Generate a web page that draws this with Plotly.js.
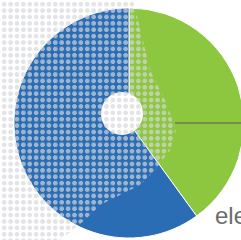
<!DOCTYPE html>
<html><head><meta charset="utf-8">
<script src="https://cdn.plot.ly/plotly-3.0.1.min.js"></script>
<style>
html,body{margin:0;padding:0;overflow:hidden;background:#fff;width:241px;height:240px}
#wrap{position:relative;width:241px;height:240px;overflow:hidden}
#chart{position:absolute;left:0;top:0;width:258px;height:240px}
#dots{position:absolute;left:0;top:0;width:241px;height:240px;pointer-events:none;
background-image:radial-gradient(circle, rgba(214,215,220,0.68) 2.1px, rgba(214,215,220,0) 2.6px);
background-size:6.4px 6.4px;background-position:1px 1px;
clip-path:polygon(0px 0px,133px 0px,138px 20px,144px 45px,150px 70px,165px 100px,176px 130px,170px 150px,155px 170px,140px 185px,120px 195px,100px 205px,85px 220px,70px 232px,60px 240px,0px 240px)}
</style></head>
<body>
<div id="wrap"><div id="chart"></div><div id="dots"></div></div>
<script>
var categories = ["electricity", "other"];
var values = [40, 60];
var colors = ["#8dc63f", "#2a6db4"];

var trace = {
  type: "pie",
  labels: categories,
  values: values,
  sort: false,
  direction: "clockwise",
  rotation: 0,
  textinfo: "none",
  hoverinfo: "label+percent",
  marker: {colors: colors, line: {color: "#ffffff", width: 1}},
  domain: {x: [0, 1], y: [0, 1]},
  showlegend: false
};

var layout = {
  width: 258, height: 240,
  margin: {l: 14, r: 14, t: 8, b: 2},
  paper_bgcolor: "rgba(0,0,0,0)",
  plot_bgcolor: "rgba(0,0,0,0)",
  showlegend: false,
  shapes: [
    {type: "circle", xref: "paper", yref: "paper", x0: 0.378, x1: 0.561, y0: 0.448, y1: 0.635,
     fillcolor: "#ffffff", line: {width: 0}, layer: "above"},
    {type: "line", xref: "paper", yref: "paper", x0: 0.70, x1: 1.2, y0: 0.5, y1: 0.5,
     line: {color: "#565c4e", width: 1.2}, layer: "above"}
  ],
  annotations: [
    {text: categories[0], xref: "paper", yref: "paper", x: 0.865, y: 0.099,
     xanchor: "left", yanchor: "middle", showarrow: false,
     font: {family: "Liberation Sans, Arial, sans-serif", size: 24, color: "#6b6b6b"}}
  ]
};

Plotly.newPlot("chart", [trace], layout, {staticPlot: true, displayModeBar: false});
</script>
</body></html>
